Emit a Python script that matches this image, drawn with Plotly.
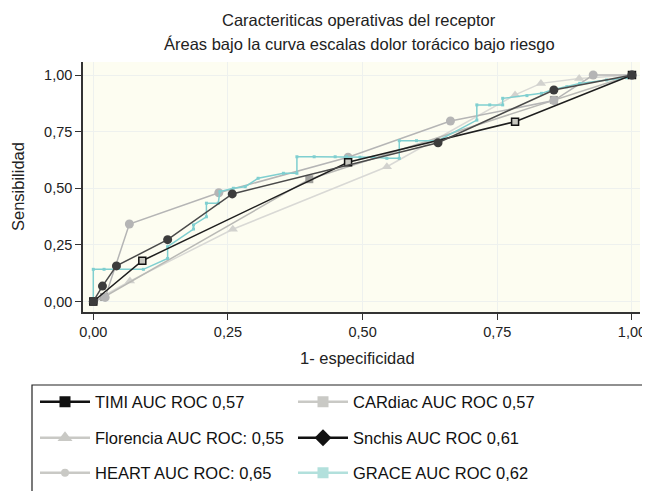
import plotly.graph_objects as go

# ---------------- data ----------------
TICK_VALS = [0, 0.25, 0.5, 0.75, 1.0]
TICK_TEXT = ["0,00", "0,25", "0,50", "0,75", "1,00"]

TITLE_1 = "Caracteriticas operativas del receptor"
TITLE_2 = "Áreas bajo la curva escalas dolor torácico bajo riesgo"
X_TITLE = "1- especificidad"
Y_TITLE = "Sensibilidad"

NAMES = ["TIMI AUC ROC 0,57", "CARdiac AUC ROC 0,57", "Florencia AUC ROC: 0,55",
         "Snchis AUC ROC 0,61", "HEART AUC ROC: 0,65", "GRACE AUC ROC 0,62"]

timi_x = [0, 0.091, 0.473, 0.783, 1.0]
timi_y = [0, 0.180, 0.615, 0.794, 1.0]

cardiac_x = [0, 0.02, 0.401, 0.855, 1.0]
cardiac_y = [0, 0.02, 0.540, 0.890, 1.0]

florencia_x = [0, 0.068, 0.259, 0.545, 0.783, 0.831, 0.902, 1.0]
florencia_y = [0, 0.090, 0.319, 0.595, 0.912, 0.963, 0.985, 1.0]

snchis_x = [0, 0.017, 0.043, 0.138, 0.258, 0.640, 0.855, 1.0]
snchis_y = [0, 0.068, 0.157, 0.273, 0.475, 0.701, 0.934, 1.0]

heart_x = [0, 0.022, 0.067, 0.233, 0.473, 0.663, 0.855, 0.928, 1.0]
heart_y = [0, 0.018, 0.342, 0.480, 0.637, 0.797, 0.887, 1.0, 1.0]

grace_x = [0, 0, 0.02, 0.093, 0.138, 0.138, 0.186, 0.186, 0.21, 0.21, 0.232, 0.235,
           0.26, 0.282, 0.306, 0.353, 0.378, 0.378, 0.41, 0.449, 0.47, 0.495, 0.52,
           0.545, 0.568, 0.568, 0.60, 0.64, 0.712, 0.712, 0.736, 0.76, 0.76, 0.805,
           0.832, 0.851, 0.879, 0.903, 0.953, 0.99, 1.0]
grace_y = [0, 0.142, 0.142, 0.142, 0.19, 0.242, 0.32, 0.338, 0.374, 0.434, 0.434, 0.485,
           0.50, 0.507, 0.544, 0.566, 0.566, 0.639, 0.639, 0.639, 0.639, 0.637, 0.637,
           0.632, 0.632, 0.71, 0.71, 0.71, 0.801, 0.868, 0.868, 0.868, 0.897, 0.909,
           0.919, 0.934, 0.948, 0.963, 0.978, 0.988, 1.0]

# ---------------- figure ----------------
# page body has an 8px margin, so the figure is drawn 8px in from the window corner
OFF = 8
W, H = 650 - OFF, 491 - OFF
ML, MT = 83 - OFF, 62 - OFF
PW, PH = 557, 250
MR, MB = W - ML - PW, H - MT - PH

FONT = "Liberation Sans, Arial, Helvetica, sans-serif"


def px2paper_x(X):
    return (X - OFF - ML) / PW


def px2paper_y(Y):
    return (MT + PH - (Y - OFF)) / PH


fig = go.Figure()


def add_series(x, y, lc, lw, sym, ms, mc, mlc, mlw):
    fig.add_trace(go.Scatter(
        x=x, y=y, mode="lines+markers", showlegend=False, hoverinfo="skip",
        line=dict(color=lc, width=lw),
        marker=dict(symbol=sym, size=ms, color=mc, line=dict(color=mlc, width=mlw)),
    ))


# draw order: lighter first
add_series(florencia_x, florencia_y, "#d9d9d5", 1.5, "triangle-up", 9, "#d2d2ce", "#d2d2ce", 0)
add_series(cardiac_x, cardiac_y, "#b9b9b5", 1.5, "square", 8, "#a0a09c", "#a0a09c", 0)
add_series(heart_x, heart_y, "#b5b5b5", 1.5, "circle", 9, "#b5b5b5", "#b5b5b5", 0)
add_series(grace_x, grace_y, "#7fcfd0", 1.5, "square", 3, "#7fcfd0", "#7fcfd0", 0)
add_series(timi_x, timi_y, "#1e1e1e", 1.5, "square", 7, "#c8c8c0", "#111111", 1.5)
add_series(snchis_x, snchis_y, "#4a4a4a", 1.5, "circle", 9, "#3c3c3c", "#3c3c3c", 0)

# legend-only entries, each in its own legend box for exact placement
LEG_STYLE = [
    ("#111111", "square", 11, "#111111"),
    ("#c9c9c5", "square", 11, "#c9c9c5"),
    ("#c9c9c5", "triangle-up", 13, "#c9c9c5"),
    ("#111111", "diamond", 13, "#111111"),
    ("#c9c9c5", "circle", 8, "#c9c9c5"),
    ("#b2e0dc", "square", 11, "#b2e0dc"),
]
leg_cols = [35, 293]
leg_rows = [402, 438, 473]
for i, (name, (lc, sym, ms, mc)) in enumerate(zip(NAMES, LEG_STYLE)):
    lid = "legend" if i == 0 else f"legend{i+1}"
    fig.add_trace(go.Scatter(
        x=[None], y=[None], mode="lines+markers", name=name, legend=lid,
        line=dict(color=lc, width=2.5),
        marker=dict(symbol=sym, size=ms, color=mc),
    ))
    fig.update_layout({lid: dict(
        x=px2paper_x(leg_cols[i % 2]), xanchor="left",
        y=px2paper_y(leg_rows[i // 2]), yanchor="middle",
        orientation="h", bgcolor="rgba(0,0,0,0)", borderwidth=0,
        itemwidth=50, itemclick=False, itemdoubleclick=False,
        font=dict(family=FONT, size=16.5, color="#111111"),
    )})

# legend frame
fig.add_shape(type="rect", xref="paper", yref="paper",
              x0=px2paper_x(32), x1=px2paper_x(670),
              y0=px2paper_y(385), y1=px2paper_y(510),
              line=dict(color="#222222", width=1.2), fillcolor="rgba(0,0,0,0)")

axis_common = dict(
    tickvals=TICK_VALS, ticktext=TICK_TEXT,
    showline=True, linecolor="#333333", linewidth=1.5,
    ticks="outside", ticklen=6, tickwidth=1.3, tickcolor="#333333",
    showgrid=True, gridcolor="#eef1ee", gridwidth=1, zeroline=False,
    tickfont=dict(family=FONT, size=14.5, color="#222222"),
    mirror=False,
)

fig.update_xaxes(range=[-0.0191, 1.0149], **axis_common)
fig.update_yaxes(range=[-0.0464, 1.0574], **axis_common)

TXT = dict(family=FONT, size=16.5, color="#222222")
fig.add_annotation(text=TITLE_1, xref="paper", yref="paper", x=px2paper_x(359), y=px2paper_y(20),
                   xanchor="center", yanchor="middle", showarrow=False, font=TXT)
fig.add_annotation(text=TITLE_2, xref="paper", yref="paper", x=px2paper_x(359), y=px2paper_y(44),
                   xanchor="center", yanchor="middle", showarrow=False, font=TXT)
fig.add_annotation(text=X_TITLE, xref="paper", yref="paper", x=px2paper_x(357), y=px2paper_y(358),
                   xanchor="center", yanchor="middle", showarrow=False, font=TXT)
fig.add_annotation(text=Y_TITLE, xref="paper", yref="paper", x=px2paper_x(18), y=px2paper_y(187),
                   xanchor="center", yanchor="middle", showarrow=False, textangle=-90, font=TXT)

fig.update_layout(
    width=W, height=H,
    margin=dict(l=ML, r=MR, t=MT, b=MB, autoexpand=False),
    paper_bgcolor="white", plot_bgcolor="#fdfdf1",
    font=dict(family=FONT, color="#222222"),
)

fig.write_html("out.html")
